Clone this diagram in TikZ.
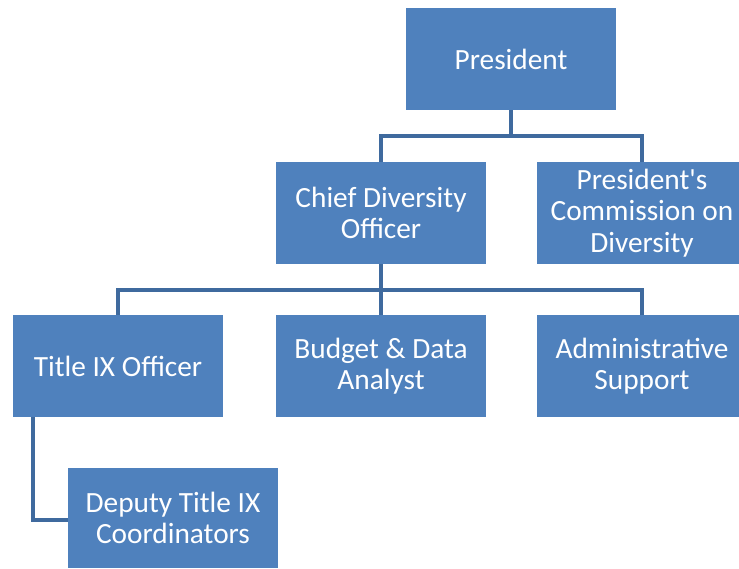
\documentclass[tikz,border=0pt]{standalone}
\usepackage{fontspec}
\setmainfont{Carlito}
\definecolor{boxblau}{HTML}{4F81BD}
\definecolor{linienblau}{HTML}{3F6A9E}
\tikzset{
  amt/.style={fill=boxblau, text=white, align=center, minimum width=157.5pt,
    minimum height=76.5pt, inner sep=0pt, font=\fontsize{22}{23.5}\selectfont},
  verbindung/.style={draw=linienblau, line width=3.7pt}
}
\begin{document}
\begin{tikzpicture}[x=0.75pt, y=-0.75pt]
  \useasboundingbox (0,0) rectangle (739,568);
  % Kaesten
  \node[amt] (praesident) at (511,59) {President};
  \node[amt] (cdo) at (381,213) {Chief Diversity\\Officer};
  \node[amt] (kommission) at (642,213) {President\textquotesingle s\\Commission on\\Diversity};
  \node[amt] (titel) at (118,366) {Title IX Officer};
  \node[amt] (budget) at (381,366) {Budget \& Data\\Analyst};
  \node[amt] (verwaltung) at (642,366) {Administrative\\Support};
  \node[amt, minimum height=75pt] (stellv) at (173,518) {Deputy Title IX\\Coordinators};
  % Verzweigungen
  \coordinate (k1) at (511,136);
  \coordinate (k2) at (381,290);
  \coordinate (k3) at (33,520);
  \draw[verbindung] (praesident.south) -- (k1);
  \draw[verbindung] (k1) -| (cdo.north);
  \draw[verbindung] (k1) -| (kommission.north);
  \draw[verbindung] (cdo.south) -- (k2);
  \foreach \ziel in {titel,budget,verwaltung}
    \draw[verbindung] (k2) -| (\ziel.north);
  \draw[verbindung] (titel.south -| k3) -- (k3) -- (stellv.west |- k3);
\end{tikzpicture}
\end{document}
